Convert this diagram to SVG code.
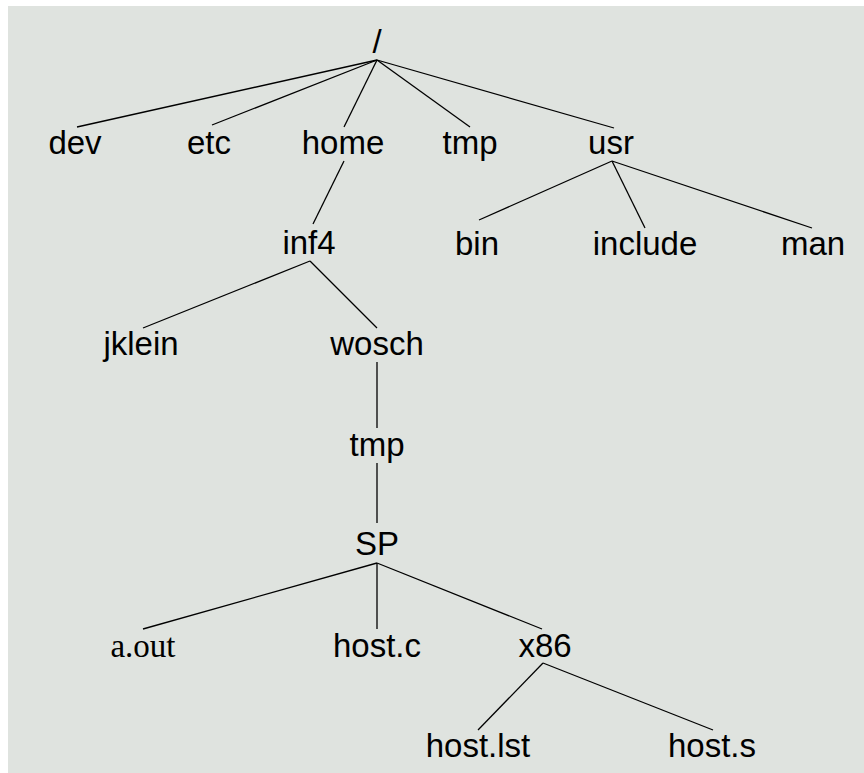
<svg xmlns="http://www.w3.org/2000/svg" width="864" height="773" viewBox="0 0 864 773">
<style>
.bg{fill:#dfe3df}
.t{font-family:"Liberation Sans",Arial,sans-serif;font-size:33px;fill:#000;text-anchor:middle}
.s{font-family:"Liberation Serif","Times New Roman",serif;font-size:33px;fill:#000;text-anchor:middle}
.c line{stroke:#000;stroke-width:1.3;fill:none}
</style>
<rect x="0" y="0" width="864" height="773" fill="#ffffff"/>
<rect class="bg" x="8" y="6" width="856" height="767"/>
<g class="c" id="connectors">
<line x1="377" y1="60" x2="77" y2="127"/>
<line x1="377" y1="60" x2="212" y2="125"/>
<line x1="377" y1="60" x2="344" y2="127"/>
<line x1="377" y1="60" x2="470" y2="127"/>
<line x1="377" y1="60" x2="614" y2="128"/>
<line x1="344" y1="161" x2="313" y2="224"/>
<line x1="310" y1="261" x2="143" y2="328"/>
<line x1="310" y1="261" x2="377" y2="328"/>
<line x1="612" y1="161" x2="479" y2="220"/>
<line x1="612" y1="161" x2="645" y2="228"/>
<line x1="612" y1="161" x2="812" y2="228"/>
<line x1="377" y1="362" x2="377" y2="428"/>
<line x1="377" y1="463" x2="377" y2="523"/>
<line x1="377" y1="563" x2="143" y2="629"/>
<line x1="377" y1="563" x2="377" y2="629"/>
<line x1="377" y1="563" x2="542" y2="629"/>
<line x1="543" y1="663" x2="478" y2="730"/>
<line x1="543" y1="663" x2="713" y2="730"/>
</g>
<g id="n-root"><text class="t" x="377" y="53">/</text></g>
<g id="n-dev"><text class="t" x="75" y="154">dev</text></g>
<g id="n-etc"><text class="t" x="209" y="154">etc</text></g>
<g id="n-home"><text class="t" x="343" y="154">home</text></g>
<g id="n-tmp1"><text class="t" x="470" y="154">tmp</text></g>
<g id="n-usr"><text class="t" x="611" y="154">usr</text></g>
<g id="n-inf4"><text class="t" x="309" y="254">inf4</text></g>
<g id="n-bin"><text class="t" x="477" y="255">bin</text></g>
<g id="n-include"><text class="t" x="645" y="255">include</text></g>
<g id="n-man"><text class="t" x="813" y="255">man</text></g>
<g id="n-jklein"><text class="t" x="141" y="355">jklein</text></g>
<g id="n-wosch"><text class="t" x="377" y="355">wosch</text></g>
<g id="n-tmp2"><text class="t" x="377" y="456">tmp</text></g>
<g id="n-SP"><text class="t" x="377" y="555">SP</text></g>
<g id="n-aout"><text class="s" x="143" y="657">a.out</text></g>
<g id="n-hostc"><text class="t" x="377" y="657">host.c</text></g>
<g id="n-x86"><text class="t" x="545" y="657">x86</text></g>
<g id="n-hostlst"><text class="t" x="478" y="757">host.lst</text></g>
<g id="n-hosts"><text class="t" x="712" y="757">host.s</text></g>
</svg>
